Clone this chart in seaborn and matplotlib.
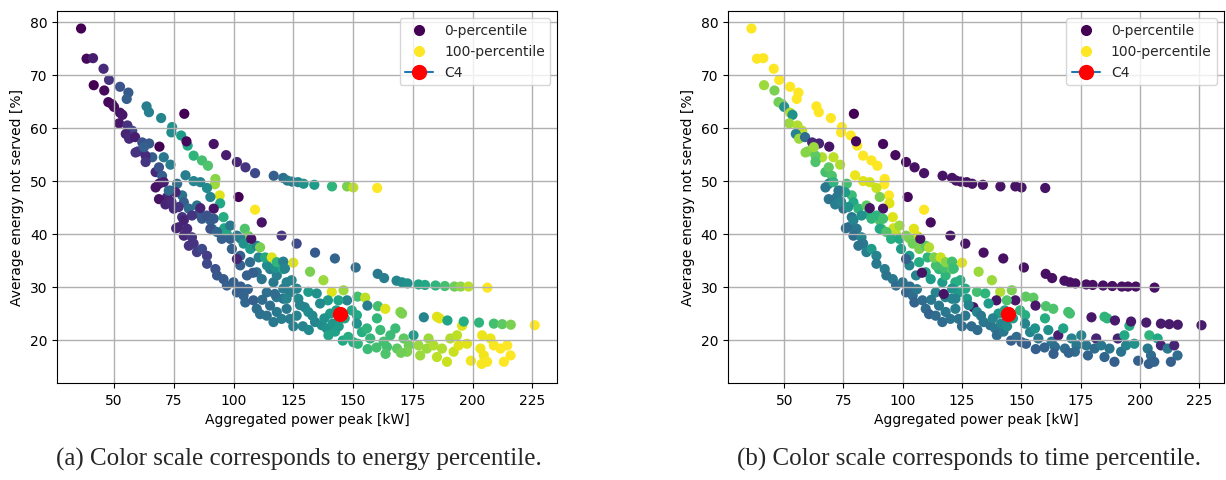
import matplotlib
matplotlib.use("Agg")
import matplotlib.pyplot as plt
from matplotlib.lines import Line2D
import pandas as pd
import seaborn as sns

# Aggregated power peak [kW] of every simulated configuration
peak_kw = [
    # upper-left streak
    36.2, 38.5, 41.2, 45.6, 47.9, 52.5, 56.0, 55.3, 63.6, 64.6, 69.7, 74.3, 74.0, 78.1, 80.8, 83.3,
    86.8, 89.3, 92.4, 92.2, 94.2, 109.0, 94.4, 95.8, 96.1, 97.2, 104.7, 106.3, 79.9, 83.3, 86.1, 88.9,
    66.0, 70.8, 73.6, 90.3,
    # upper band
    41.5, 45.9, 47.6, 49.2, 50.0, 52.5, 53.5, 52.1, 55.6, 57.6, 54.9, 56.3, 58.8, 61.8, 64.7, 69.0,
    79.4, 80.3, 60.0, 63.2, 59.0, 63.2, 67.4, 68.8, 70.1, 68.8, 67.4, 70.8, 73.6, 72.2, 68.8, 76.4,
    78.5, 79.2, 75.0, 78.5, 77.1, 76.0, 79.2, 81.3, 84.7, 85.4, 82.6, 86.8, 90.3, 91.0, 86.1, 91.7,
    71.5, 74.0, 77.0, 62.5, 75.7, 72.9,
    # main band, left part
    80.6, 79.2, 82.6, 83.3, 81.3, 84.7, 86.8, 88.9, 88.9, 92.4, 93.1, 95.8, 97.2, 100.0, 88.9, 91.7,
    90.3, 93.1, 95.1, 98.6, 98.6, 101.4, 99.3, 102.8, 102.8, 106.9, 105.6, 109.7, 111.8, 113.9, 116.7, 115.3,
    118.1, 122.2, 123.6, 101.4, 104.2, 104.9, 108.3, 109.7, 111.1, 113.9, 115.3, 118.1, 120.8, 122.2, 123.6, 126.4,
    116.7, 120.1, 103.0, 106.0, 112.0, 125.0, 118.0, 110.5, 114.0, 117.5,
    # streak across the band
    102.8, 104.2, 107.0, 109.7, 111.1, 113.2, 116.0, 118.1, 120.8, 125.0, 132.0, 137.6, 141.1, 146.0, 151.9, 155.1,
    160.4, 163.5, 169.8, 170.5, 185.1, 186.2, 195.6,
    # isolated points
    107.4, 111.8, 120.1, 126.4, 101.4, 108.1, 117.3, 129.8, 102.1, 139.5,
    # middle flat branch
    134.1, 142.4, 151.1, 160.3, 163.0, 168.2, 170.5, 172.8, 177.4, 180.1, 184.5, 188.4, 192.4, 195.0, 198.3, 206.2,
    # top flat branch
    91.7, 96.9, 101.4, 105.0, 109.0, 116.8, 120.8, 122.5, 124.5, 127.0, 129.3, 133.8, 141.2, 147.5, 150.1, 160.1,
    # bottom flat branch
    147.5, 156.0, 179.6, 189.5, 196.3, 202.7, 208.9, 212.4, 216.0, 226.0,
    # main band, right part
    120.8, 121.5, 124.3, 120.8, 122.2, 126.4, 127.1, 127.8, 131.3, 131.3, 134.8, 136.2, 134.1, 136.9, 139.0, 140.4,
    143.9, 149.5, 151.6, 151.6, 153.7, 155.8, 157.2, 160.0, 161.4, 162.8, 164.2, 165.6, 167.7, 168.4, 171.2, 173.3,
    172.6, 175.3, 177.4, 178.1, 180.9, 181.6, 183.7, 185.1, 187.2, 189.3, 190.7, 192.1, 193.5, 194.2, 197.7, 199.3,
    203.3, 204.0, 204.7, 203.8, 206.1, 207.5, 208.9, 211.7, 213.1, 214.5, 215.9, 139.7, 142.5, 145.7, 148.0, 150.1,
    152.0, 156.1, 159.8, 163.6, 170.0, 129.0, 131.5, 133.0, 138.0, 141.5, 144.0, 146.5, 143.0,
]

# Average energy not served [%]
ens_pct = [
    78.7, 73.0, 73.1, 71.1, 69.0, 67.7, 66.6, 65.4, 64.0, 62.9, 61.8, 60.1, 59.1, 58.5, 56.6, 54.7,
    53.8, 52.8, 50.3, 49.3, 47.2, 44.5, 45.7, 43.1, 41.0, 39.9, 40.9, 39.5, 51.0, 49.9, 49.7, 48.6,
    54.4, 54.4, 53.0, 46.9,
    68.0, 67.0, 64.8, 64.4, 63.9, 62.8, 62.4, 60.8, 60.4, 59.4, 58.8, 57.9, 58.2, 57.2, 57.0, 56.4,
    62.6, 57.4, 55.5, 54.7, 55.3, 53.5, 51.6, 52.5, 50.9, 49.4, 48.7, 49.7, 48.1, 46.9, 46.5, 49.4,
    47.2, 45.9, 44.7, 43.1, 41.2, 41.0, 42.5, 44.7, 45.3, 43.7, 43.4, 42.8, 42.5, 40.9, 44.8, 44.7,
    45.5, 46.0, 45.0, 56.3, 47.8, 48.1,
    40.9, 39.6, 39.3, 38.1, 37.7, 36.5, 37.1, 35.8, 34.3, 33.3, 32.1, 31.4, 30.2, 30.8, 43.4, 42.8,
    40.9, 40.3, 39.0, 41.5, 39.0, 39.6, 37.1, 35.8, 34.0, 34.6, 32.1, 32.7, 31.4, 28.9, 30.8, 33.3,
    32.1, 30.8, 28.9, 28.9, 28.3, 27.0, 27.4, 25.8, 24.8, 24.5, 26.4, 25.2, 27.7, 25.8, 23.9, 24.5,
    23.3, 23.9, 30.0, 29.5, 27.5, 22.5, 28.0, 35.5, 34.0, 33.5,
    39.1, 38.1, 37.1, 37.7, 37.4, 35.5, 35.5, 34.6, 33.3, 34.5, 32.8, 31.2, 29.0, 29.3, 28.1, 27.9,
    26.3, 25.8, 25.2, 24.9, 24.3, 24.0, 22.6,
    39.0, 42.1, 39.6, 38.1, 35.2, 32.6, 28.6, 26.1, 46.9, 27.4,
    36.4, 35.3, 33.6, 32.4, 31.6, 31.1, 30.8, 30.6, 30.4, 30.3, 30.2, 30.1, 30.0, 30.0, 30.0, 29.8,
    56.9, 54.8, 53.5, 52.5, 51.4, 50.9, 50.5, 50.0, 49.8, 49.7, 49.4, 49.2, 48.9, 48.9, 48.7, 48.6,
    27.4, 26.4, 24.2, 23.6, 23.4, 23.2, 23.0, 22.9, 22.8, 22.7,
    34.7, 33.4, 31.2, 29.6, 27.7, 29.6, 27.7, 26.5, 29.0, 25.2, 28.7, 26.8, 23.3, 22.7, 22.1, 24.9,
    27.4, 25.5, 24.6, 23.0, 21.4, 22.1, 20.2, 24.0, 21.8, 19.6, 18.6, 20.8, 22.1, 18.3, 20.2, 18.9,
    17.7, 20.8, 18.9, 17.0, 18.3, 20.2, 18.9, 16.7, 18.3, 15.8, 20.2, 17.7, 20.8, 18.9, 19.2, 16.0,
    18.3, 20.8, 17.0, 15.4, 15.8, 20.2, 18.9, 18.3, 15.8, 18.9, 17.0, 20.8, 21.5, 19.8, 20.5, 19.5,
    19.2, 18.2, 18.5, 17.3, 17.5, 22.5, 21.8, 24.5, 24.0, 23.0, 22.5, 24.0, 25.5,
]

# Energy percentile of each configuration
energy_pctl = [
    0, 2, 8, 12, 15, 25, 28, 30, 42, 42, 45, 50, 48, 55, 60, 65,
    70, 72, 82, 85, 95, 100, 60, 62, 58, 60, 72, 78, 42, 45, 45, 48,
    30, 40, 42, 45,
    0, 3, 2, 2, 3, 5, 6, 6, 15, 20, 10, 12, 8, 25, 28, 0,
    0, 2, 15, 12, 15, 15, 12, 25, 30, 5, 5, 8, 30, 10, 5, 35,
    38, 30, 12, 15, 12, 10, 10, 35, 38, 30, 15, 28, 32, 35, 10, 5,
    10, 12, 15, 30, 10, 35,
    12, 12, 15, 15, 15, 18, 22, 18, 22, 25, 27, 28, 30, 30, 25, 28,
    25, 33, 30, 40, 30, 38, 30, 30, 30, 35, 30, 37, 38, 37, 40, 42,
    42, 45, 43, 30, 32, 33, 30, 35, 37, 38, 36, 40, 38, 40, 42, 45,
    40, 42, 30, 32, 35, 43, 40, 45, 48, 50,
    42, 50, 55, 45, 80, 60, 95, 65, 60, 95, 80, 85, 95, 85, 70, 90,
    70, 95, 82, 80, 95, 95, 95,
    5, 5, 15, 22, 10, 30, 35, 45, 0, 55,
    28, 32, 36, 40, 42, 45, 48, 50, 58, 60, 65, 70, 78, 83, 90, 100,
    5, 8, 10, 15, 22, 30, 36, 40, 43, 45, 50, 55, 65, 80, 90, 100,
    45, 42, 45, 58, 62, 65, 70, 75, 80, 100,
    42, 45, 45, 42, 45, 45, 48, 45, 55, 48, 50, 48, 45, 48, 50, 55,
    58, 60, 60, 50, 62, 65, 66, 66, 68, 70, 70, 68, 68, 75, 75, 78,
    80, 55, 85, 85, 85, 85, 88, 90, 88, 92, 88, 92, 90, 95, 95, 98,
    98, 97, 98, 99, 99, 97, 99, 100, 100, 100, 100, 58, 58, 60, 62, 62,
    65, 68, 70, 72, 78, 45, 47, 47, 50, 52, 55, 58, 55,
]

# Time percentile of each configuration
time_pctl = [
    100, 100, 100, 100, 100, 100, 100, 100, 100, 100, 100, 100, 100, 100, 100, 100,
    100, 100, 100, 100, 100, 100, 95, 95, 92, 90, 95, 95, 97, 95, 93, 92,
    88, 90, 88, 80,
    85, 80, 78, 80, 50, 88, 50, 85, 88, 90, 45, 85, 35, 12, 10, 5,
    0, 2, 80, 75, 82, 72, 70, 75, 72, 45, 40, 65, 55, 40, 38, 70,
    68, 60, 35, 40, 35, 35, 45, 65, 75, 62, 50, 65, 72, 70, 5, 5,
    42, 45, 50, 85, 55, 40,
    40, 35, 45, 40, 38, 42, 55, 45, 40, 42, 38, 40, 35, 38, 65, 70,
    60, 72, 62, 85, 60, 80, 55, 55, 45, 62, 45, 60, 55, 45, 55, 65,
    65, 62, 55, 32, 35, 32, 35, 35, 32, 35, 40, 40, 45, 42, 38, 40,
    35, 38, 35, 40, 40, 35, 45, 65, 70, 70,
    80, 78, 80, 75, 88, 80, 92, 82, 75, 95, 85, 85, 88, 80, 75, 75,
    72, 72, 70, 70, 65, 65, 62,
    5, 3, 5, 5, 30, 5, 5, 5, 2, 5,
    4, 4, 4, 4, 4, 4, 4, 4, 4, 4, 4, 4, 4, 4, 4, 4,
    2, 3, 3, 4, 5, 5, 5, 5, 5, 5, 5, 5, 5, 5, 5, 5,
    6, 6, 6, 7, 7, 7, 7, 7, 7, 7,
    70, 68, 62, 50, 45, 60, 55, 45, 70, 45, 65, 55, 40, 38, 40, 55,
    72, 65, 62, 45, 45, 50, 40, 62, 50, 40, 35, 8, 58, 35, 45, 40,
    35, 45, 40, 32, 35, 10, 40, 32, 38, 30, 10, 38, 60, 45, 50, 30,
    40, 65, 35, 30, 32, 60, 10, 40, 30, 10, 35, 35, 40, 30, 35, 30,
    30, 30, 32, 30, 32, 35, 35, 40, 45, 45, 48, 55, 58,
]

# Reference configuration C4
c4_peak = 144.4
c4_ens = 24.9

x_ticks = [50, 75, 100, 125, 150, 175, 200, 225]
y_ticks = [20, 30, 40, 50, 60, 70, 80]
x_label = "Aggregated power peak [kW]"
y_label = "Average energy not served [%]"
captions = ["(a) Color scale corresponds to energy percentile.",
            "(b) Color scale corresponds to time percentile."]

df = pd.DataFrame({"peak": peak_kw, "ens": ens_pct,
                   "energy": energy_pctl, "time": time_pctl})

sns.set_style("white")
plt.rcParams.update({
    "font.family": ["DejaVu Sans"],
    "font.size": 10,
    "axes.axisbelow": "line",
    "axes.edgecolor": "black",
    "axes.linewidth": 0.8,
    "grid.color": "#b0b0b0",
    "grid.linewidth": 1.0,
    "xtick.bottom": True,
    "ytick.left": True,
    "xtick.direction": "out",
    "ytick.direction": "out",
    "xtick.major.size": 3.5,
    "ytick.major.size": 3.5,
    "xtick.color": "black",
    "ytick.color": "black",
    "axes.labelcolor": "black",
})

W, H = 1226, 481
fig = plt.figure(figsize=(W / 100, H / 100), dpi=100)
ax_a = fig.add_axes([57.4 / W, 97 / H, 500 / W, 372 / H])
ax_b = fig.add_axes([728 / W, 97 / H, 496 / W, 372 / H])

cmap = plt.get_cmap("viridis")

for ax, hue_col, caption, cx in [(ax_a, "energy", captions[0], 299),
                                 (ax_b, "time", captions[1], 969)]:
    sns.scatterplot(data=df, x="peak", y="ens", hue=hue_col, palette="viridis",
                    hue_norm=(0, 100), s=54, linewidth=0, legend=False, ax=ax)
    ax.plot([c4_peak], [c4_ens], marker="o", color="C0", markerfacecolor="red",
            markeredgecolor="red", markersize=10)
    ax.set_xlim(26.3, 235.5)
    ax.set_ylim(11.8, 82.0)
    ax.set_xticks(x_ticks)
    ax.set_yticks(y_ticks)
    ax.grid(True)
    ax.set_xlabel(x_label, fontsize=10)
    ax.set_ylabel(y_label, fontsize=10)
    ax.tick_params(labelsize=10)
    for sp in ax.spines.values():
        sp.set_visible(True)
        sp.set_color("black")
    handles = [
        Line2D([0], [0], marker="o", linestyle="none", markersize=7,
               markerfacecolor=cmap(0.0), markeredgecolor=cmap(0.0), label="0-percentile"),
        Line2D([0], [0], marker="o", linestyle="none", markersize=7,
               markerfacecolor=cmap(1.0), markeredgecolor=cmap(1.0), label="100-percentile"),
        Line2D([0], [0], marker="o", color="C0", markerfacecolor="red",
               markeredgecolor="red", markersize=10, label="C4"),
    ]
    ax.legend(handles=handles, loc="upper right", fontsize=10, framealpha=0.8,
              edgecolor="0.8", fancybox=True)
    fig.text(cx / W, 1 - 466 / H, caption, ha="center", va="baseline",
             fontsize=18, family=["Liberation Serif"])

fig.savefig("out.png", dpi=100)
